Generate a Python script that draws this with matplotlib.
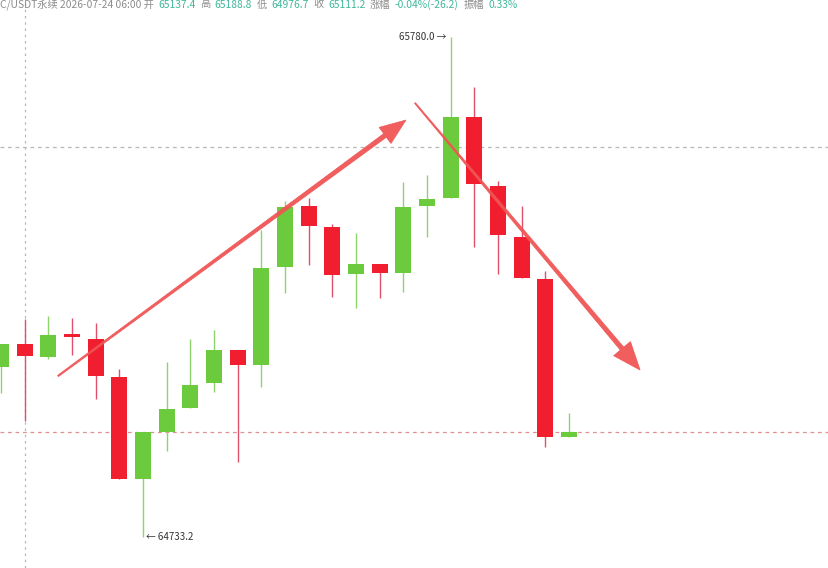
import matplotlib
matplotlib.use('Agg')
import matplotlib.pyplot as plt
from matplotlib.patches import Rectangle, Polygon
from matplotlib.transforms import IdentityTransform
import numpy as np

plt.rcParams['font.family'] = ['Noto Sans CJK SC', 'DejaVu Sans']

# ---- data (BTC/USDT perpetual candles) ----
opens  = [65089.1, 65137.4, 65111.1, 65158.2, 65147.7, 65068.2, 64854.6, 64953.0, 65003.3, 65055.6,
          65124.7, 65093.3, 65298.5, 65426.2, 65382.2, 65283.8, 65304.8, 65285.9, 65426.2, 65442.9,
          65612.5, 65468.1, 65361.3, 65273.3, 64942.6]
highs  = [65137.3, 65188.8, 65195.9, 65191.7, 65181.2, 65084.9, 64953.0, 65099.6, 65147.7, 65166.6,
          65124.7, 65375.9, 65436.6, 65442.9, 65388.5, 65369.7, 65304.8, 65476.4, 65491.1, 65780.0,
          65675.3, 65478.5, 65426.2, 65290.1, 64992.8]
lows   = [65034.7, 64976.7, 65105.9, 65114.2, 65022.1, 64854.6, 64733.2, 64913.2, 65003.3, 65036.8,
          64890.2, 65047.2, 65244.0, 65302.7, 65235.7, 65212.6, 65233.6, 65246.1, 65361.3, 65442.9,
          65340.3, 65283.8, 65275.4, 64921.6, 64942.6]
closes = [65137.3, 65111.2, 65156.1, 65151.9, 65070.3, 64854.6, 64953.0, 65001.2, 65051.4, 65124.7,
          65093.3, 65296.4, 65424.1, 65384.3, 65281.7, 65304.8, 65285.9, 65424.1, 65440.8, 65612.5,
          65472.2, 65365.5, 65275.4, 64942.6, 64953.0]

header_parts = [("C/USDT永续 2026-07-24 06:00 开", "g"), ("65137.4", "n"), ("高", "g"), ("65188.8", "n"),
                ("低", "g"), ("64976.7", "n"), ("收", "g"), ("65111.2", "n"), ("涨幅", "g"),
                ("-0.04%(-26.2)", "n"), ("振幅", "g"), ("0.33%", "n")]
max_label = "65780.0 →"
min_label = "← 64733.2"
crosshair_idx = 1
crosshair_price = 65549.7
up_arrow = ((2.41, 65070.3), (17.11, 65606.2))
down_arrow = ((17.49, 65641.8), (27.0, 65082.8))

GREEN = '#6ccb3c'
GREEN_WICK = '#8fd46a'
RED = '#f01e2e'
RED_WICK = '#e0506a'
ARROW = '#f05555'

W, H = 829, 568
fig = plt.figure(figsize=(W / 100, H / 100), dpi=100)
ax = fig.add_axes([0, 0, 1, 1])
ax.set_xlim(-0.04, 34.98)
ax.set_ylim(64668.3, 65857.5)
ax.axis('off')

# guide lines
ax.axhline(crosshair_price, color='#b8b8b8', lw=0.9, ls=(0, (3, 3)), zorder=1)
ax.axhline(closes[-1], color='#e09090', lw=0.9, ls=(0, (3, 3)), zorder=1)
ax.axvline(crosshair_idx, color='#b8b8b8', lw=0.9, ls=(0, (2, 3)), zorder=1)

bw = 0.68
for i, (o, h, l, c) in enumerate(zip(opens, highs, lows, closes)):
    up = c >= o
    ax.vlines(i, l, h, color=GREEN_WICK if up else RED_WICK, lw=1.0, zorder=2)
    lo = min(o, c)
    ht = max(abs(c - o), 5.0)
    ax.add_patch(Rectangle((i - bw / 2, lo), bw, ht, facecolor=GREEN if up else RED,
                           edgecolor='none', zorder=3))

# max / min labels
imax = int(np.argmax(highs))
imin = int(np.argmin(lows))
ax.annotate(max_label, xy=(imax, highs[imax]), xytext=(-3, 0), textcoords='offset points',
            ha='right', va='center', fontsize=7, color='#333333')
ax.annotate(min_label, xy=(imin, lows[imin]), xytext=(2, 0), textcoords='offset points',
            ha='left', va='center', fontsize=7, color='#333333')

# tapered arrows
fig.canvas.draw()
def tapered_arrow(p0, p1, w0, w1, head_len, head_w, color):
    a = ax.transData.transform(p0)
    b = ax.transData.transform(p1)
    d = b - a
    L = np.hypot(*d)
    u = d / L
    n = np.array([-u[1], u[0]])
    base = b - u * head_len
    pts = [a + n * w0 / 2, base + n * w1 / 2, base + n * head_w / 2, b,
           base - n * head_w / 2, base - n * w1 / 2, a - n * w0 / 2]
    fig.patches.append(Polygon(pts, closed=True, facecolor=color, edgecolor=color, lw=0.5,
                               transform=IdentityTransform(), zorder=5, alpha=0.95))

tapered_arrow(*up_arrow, 1.5, 4.5, 26, 20, ARROW)
tapered_arrow(*down_arrow, 1.2, 4.5, 28, 22, ARROW)

# header
renderer = fig.canvas.get_renderer()
x = 0.0
for txt, kind in header_parts:
    t = fig.text(x / W, 1 - 7.5 / H, txt, fontsize=7.4, va='baseline', ha='left',
                 color='#8c8c8c' if kind == 'g' else '#3fb79a')
    bb = t.get_window_extent(renderer)
    x = bb.x1 + 4.5

fig.savefig('out.png', dpi=100)
